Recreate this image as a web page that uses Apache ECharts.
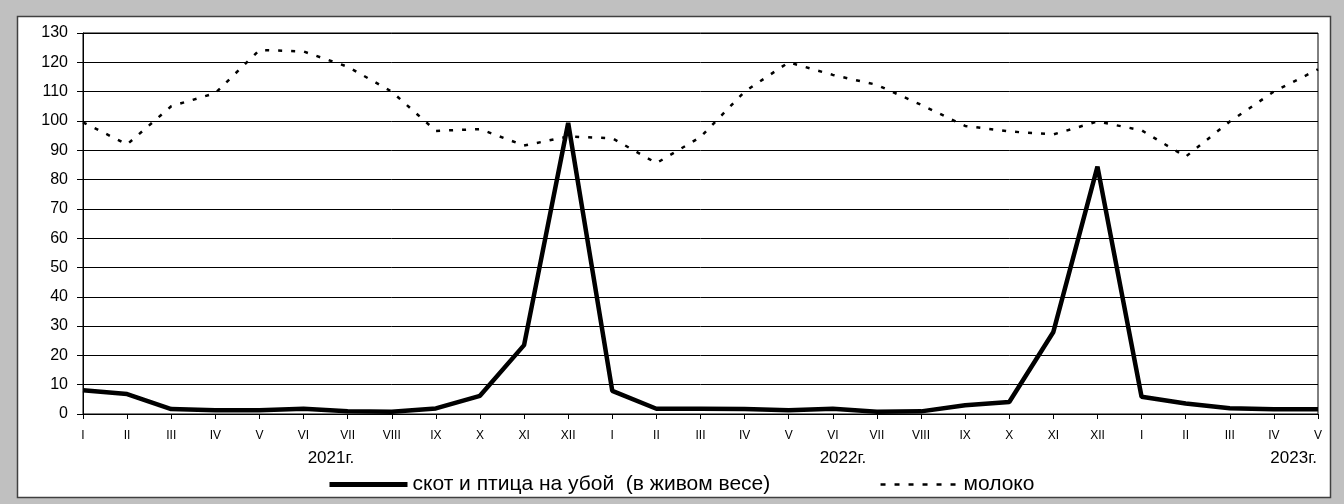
<!DOCTYPE html>
<html>
<head>
<meta charset="utf-8">
<script src="https://cdn.jsdelivr.net/npm/echarts@6/dist/echarts.min.js"></script>
<style>
html,body{margin:0;padding:0;background:#c0c0c0;}
#chart{width:1344px;height:504px;}
</style>
</head>
<body>
<div id="chart"></div>
<script>
var months = ['I','II','III','IV','V','VI','VII','VIII','IX','X','XI','XII',
              'I','II','III','IV','V','VI','VII','VIII','IX','X','XI','XII',
              'I','II','III','IV','V'];
var yearLabels = ['2021г.','2022г.','2023г.'];
var seriesNames = ['скот и птица на убой  (в живом весе)','молоко'];
var cattle = [8.1, 6.8, 1.7, 1.25, 1.25, 1.8, 0.9, 0.8, 1.9, 6.2, 23.5, 99.3,
              7.9, 1.8, 1.8, 1.7, 1.3, 1.8, 0.8, 0.9, 3.0, 4.1, 28.0, 84.4,
              5.9, 3.6, 2.0, 1.6, 1.6];
var milk = [99.5, 92, 105, 109.5, 124.2, 123.7, 118.5, 110, 96.6, 97.2, 91.6, 94.7,
            94.1, 85.6, 94.5, 110, 120, 115.7, 112.3, 105.5, 98.3, 96.4, 95.4, 99.8,
            96.8, 87.8, 99.8, 110, 117.6];

var FONT = 'Liberation Sans, Arial, sans-serif';
var chart = echarts.init(document.getElementById('chart'));
chart.setOption({
  backgroundColor: '#c0c0c0',
  animation: false,
  textStyle: {fontFamily: FONT, color: '#000'},
  graphic: [
    {type: 'rect', z: -10, shape: {x: 17.5, y: 16.5, width: 1313, height: 481},
     style: {fill: '#fff', stroke: '#404040', lineWidth: 1.5}},
    {type: 'text', x: 331, y: 458, style: {text: yearLabels[0], fontSize: 17, fontFamily: FONT, fill: '#000', align: 'center', verticalAlign: 'middle'}},
    {type: 'text', x: 843, y: 458, style: {text: yearLabels[1], fontSize: 17, fontFamily: FONT, fill: '#000', align: 'center', verticalAlign: 'middle'}},
    {type: 'text', x: 1317, y: 458, style: {text: yearLabels[2], fontSize: 17, fontFamily: FONT, fill: '#000', align: 'right', verticalAlign: 'middle'}}
  ],
  grid: {left: 83, right: 26, top: 33, bottom: 90, show: true, borderColor: '#000', borderWidth: 1, backgroundColor: 'transparent'},
  legend: {
    left: 322, top: 469, itemWidth: 78, itemHeight: 24, itemGap: 109,
    textStyle: {fontSize: 21, fontFamily: FONT, color: '#000'},
    itemStyle: {opacity: 0},
    data: [
      {name: seriesNames[0], itemStyle: {opacity: 0}, lineStyle: {width: 5, color: '#000'}},
      {name: seriesNames[1], itemStyle: {opacity: 0}, lineStyle: {width: 2.5, color: '#000', type: [5, 9]}}
    ]
  },
  xAxis: {
    type: 'category', boundaryGap: false, data: months,
    axisLine: {lineStyle: {color: '#000', width: 1}},
    axisTick: {show: true, length: 5, alignWithLabel: true, lineStyle: {color: '#000'}},
    axisLabel: {fontSize: 12, color: '#000', margin: 16, interval: 0},
    splitLine: {show: false}
  },
  yAxis: {
    type: 'value', min: 0, max: 130, interval: 10,
    axisLine: {show: true, lineStyle: {color: '#000', width: 1}},
    axisTick: {show: true, length: 6, lineStyle: {color: '#000'}},
    axisLabel: {fontSize: 16, color: '#000', margin: 15},
    splitLine: {show: true, lineStyle: {color: '#000', width: 1}}
  },
  series: [
    {name: seriesNames[0], type: 'line', data: cattle, symbol: 'none', z: 3,
     lineStyle: {color: '#000', width: 4.5}, itemStyle: {color: '#000'}},
    {name: seriesNames[1], type: 'line', data: milk, symbol: 'none', z: 2,
     lineStyle: {color: '#000', width: 2.5, type: [4, 9]}, itemStyle: {color: '#000'}}
  ]
});
</script>
</body>
</html>
